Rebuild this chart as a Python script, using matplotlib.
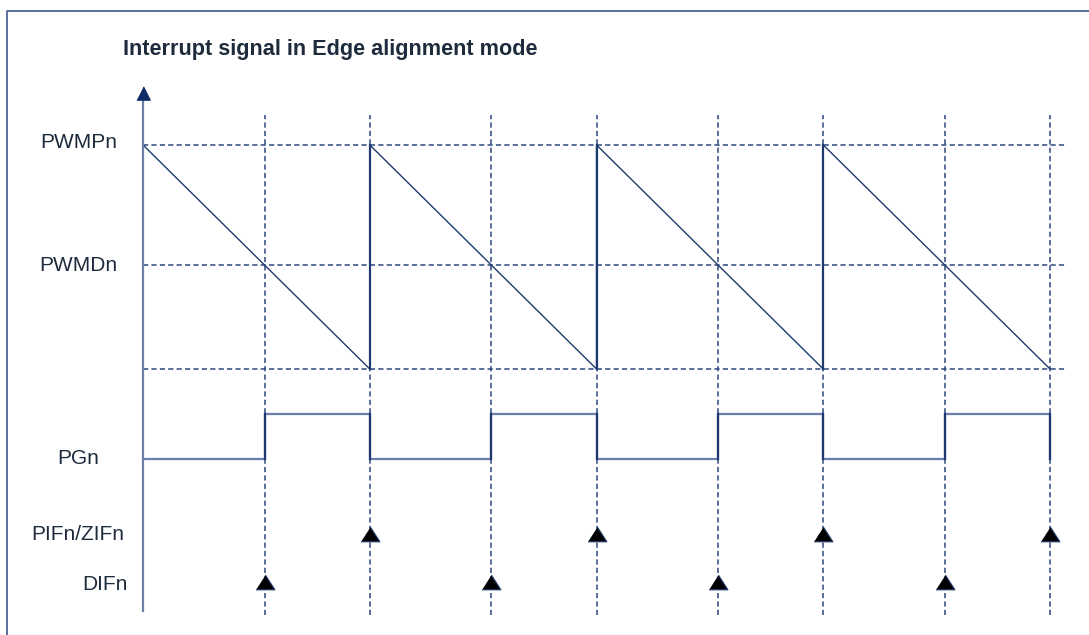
import numpy as np
import matplotlib
matplotlib.use('Agg')
import matplotlib.pyplot as plt

plt.rcParams['font.family'] = ['Liberation Sans', 'DejaVu Sans']

# signal levels (PWMPn = 1, counter bottom = 0)
level_names = ['PWMPn', 'PWMDn']
level_vals = [1.0, 0.464]
pg_high = -0.20
pg_low = -0.40
pif_y = -0.737
dif_y = -0.951

# timing, in counter periods
periods = [0, 1, 2, 3, 4]
duty_t = 0.536          # where the ramp crosses PWMDn
pif_times = [1, 2, 3, 4]
dif_times = [0.536, 1.536, 2.536, 3.536]

row_labels = ['PWMPn', 'PWMDn', 'PGn', 'PIFn/ZIFn', 'DIFn']
row_label_y = [1.009, 0.464, -0.40, -0.741, -0.964]
row_label_x = [-0.284, -0.284, -0.288, -0.288, -0.169]

title = 'Interrupt signal in Edge alignment mode'

line_c = '#1f3a6e'
dash_c = '#2c4680'
axis_c = '#6f7fa6'
pg_c = '#6a7dab'
text_c = '#1e2b3c'
dash = (0, (3.4, 2.1))

fig = plt.figure(figsize=(10.89, 6.35), dpi=100)
ax = fig.add_axes([0, 0, 1, 1])
ax.set_xlim(-0.6307, 4.172)
ax.set_ylim(-1.1875, 1.647)
ax.axis('off')

# frame (left and top only)
ax.plot([-0.600, -0.600, 4.2], [-1.3, 1.598, 1.598], color='#4f6496', lw=1.3, clip_on=False)

# horizontal dashed guides
for y in level_vals + [0.0]:
    ax.plot([0, 4.071], [y, y], color=dash_c, lw=1.1, ls=dash)

# vertical dashed guides
for t in dif_times + pif_times:
    ax.plot([t, t], [-1.098, 1.134], color=dash_c, lw=1.1, ls=dash)

# sawtooth counter
saw_x, saw_y = [], []
for p in periods[:-1]:
    saw_x += [p, p + 1]
    saw_y += [1.0, 0.0]
saw_x.append(periods[-1])
saw_y.append(0.0)
ax.plot(saw_x, saw_y, color=line_c, lw=1.0)
# vertical reset edges
for p in periods[1:-1]:
    ax.plot([p, p], [0.0, 1.0], color=line_c, lw=1.6)

# PGn output
pg_x = [0]
pg_y = [pg_low]
for p in periods[:-1]:
    d = p + duty_t
    pg_x += [d, d, p + 1, p + 1]
    pg_y += [pg_low, pg_high, pg_high, pg_low]
ax.plot(pg_x, pg_y, color=pg_c, lw=1.6)
for p in periods[:-1]:
    ax.plot([p + duty_t] * 2, [pg_low, pg_high], color=line_c, lw=1.6)
    ax.plot([p + 1] * 2, [pg_low, pg_high], color=line_c, lw=1.6)

# vertical axis with arrow
ax.plot([0, 0], [-1.080, 1.205], color=axis_c, lw=1.6)
tri = [(-1, -0.78), (1, -0.78), (0, 0.78)]
ax.plot([0], [1.234], marker=[(-1, -1), (1, -1), (0, 1)], ms=9.5,
        color='#0d2a66', mec='#0d2a66', ls='none')

# interrupt flags
ax.plot(pif_times, [pif_y] * len(pif_times), marker=tri, ms=13.5, ls='none',
        color='black', mec='#1f3a6e', mew=0.8)
ax.plot(dif_times, [dif_y] * len(dif_times), marker=tri, ms=13.5, ls='none',
        color='black', mec='#1f3a6e', mew=0.8)

for lab, x, y in zip(row_labels, row_label_x, row_label_y):
    ax.text(x, y, lab, ha='center', va='center', fontsize=15, color=text_c)

ax.text(-0.088, 1.425, title, ha='left', va='center', fontsize=15.6,
        fontweight='bold', color=text_c)

fig.savefig('out.png', dpi=100)
